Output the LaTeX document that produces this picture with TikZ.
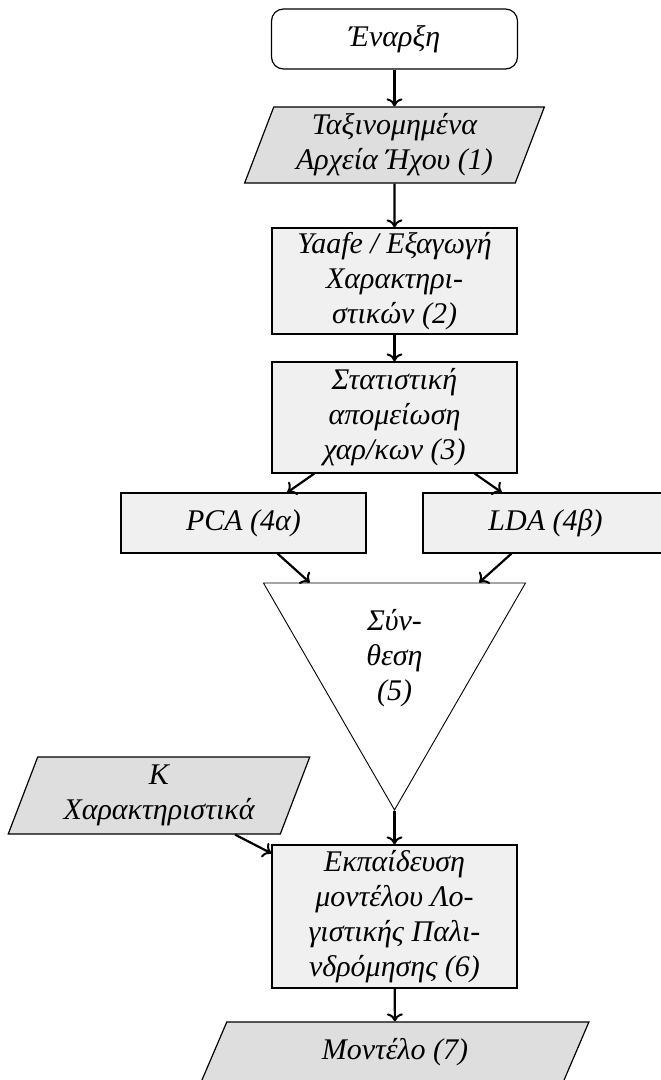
\documentclass[tikz,border=0pt]{standalone}
\usepackage{fontspec}
\setmainfont{Liberation Serif}
\usetikzlibrary{shapes.geometric,arrows.meta}

\definecolor{procgray}{gray}{0.94}
\definecolor{iogray}{gray}{0.87}

\begin{document}
\begin{tikzpicture}[x=1pt,y=-1pt,
	txt/.style={font=\fontsize{30}{35}\selectfont\itshape,align=center,inner sep=2pt,line width=1.2pt},
	startbox/.style={txt,draw,rounded corners=12pt,minimum width=246pt,minimum height=60pt},
	procbox/.style={txt,draw,fill=procgray,minimum width=245pt},
	iobox/.style={txt,draw,fill=iogray,trapezium,trapezium left angle=70,trapezium right angle=110,trapezium stretches=true},
	arr/.style={-{To[length=8pt,width=16pt,line width=2pt]},line width=2.2pt}]
	\useasboundingbox (0,0) rectangle (661,1080); %περιθώρια
	\node[startbox] (start) at (394.5,39) {Έναρξη}; %αρχή
	\node[iobox,minimum width=300.7pt,minimum height=76pt] (files) at (394.5,145) {Ταξινομημένα\\Αρχεία Ήχου (1)};
	\node[procbox,minimum height=106pt] (yaafe) at (394.5,281) {Yaafe / Εξαγωγή\\Χαρακτηρι-\\στικών (2)};
	\node[procbox,minimum height=111pt] (stat) at (394.5,417.5) {Στατιστική\\απομείωση\\χαρ/κων (3)};
	\node[procbox,minimum height=60pt] (pca) at (243.5,523) {PCA (4α)};
	\node[procbox,minimum height=60pt] (lda) at (545.5,523) {LDA (4β)};
	\node[txt,draw,line width=0.9pt,regular polygon,regular polygon sides=3,shape border rotate=180,minimum size=302.6pt] (synth) at (394.5,658.6) {Σύν-\\θεση\\(5)}; %σύνθεση
	\node[iobox,minimum width=302pt,minimum height=77pt] (feat) at (159,795.5) {Κ\\Χαρακτηριστικά};
	\node[procbox,minimum height=143pt] (train) at (394.5,916.5) {Εκπαίδευση\\μοντέλου Λο-\\γιστικής Παλι-\\νδρόμησης (6)};
	\node[iobox,minimum width=388pt,minimum height=60pt] (model) at (395,1052) {Μοντέλο (7)}; %έξοδος
	\draw[arr] (start) -- (files);
	\draw[arr] (files) -- (yaafe);
	\draw[arr] (yaafe) -- (stat);
	\draw[arr] (stat) -- (pca);
	\draw[arr] (stat) -- (lda);
	\draw[arr] (pca) -- (synth);
	\draw[arr] (lda) -- (synth);
	\draw[arr] (synth.corner 1) -- (train);
	\draw[arr] (feat) -- (train);
	\draw[arr] (train) -- (model);
\end{tikzpicture}
\end{document}
